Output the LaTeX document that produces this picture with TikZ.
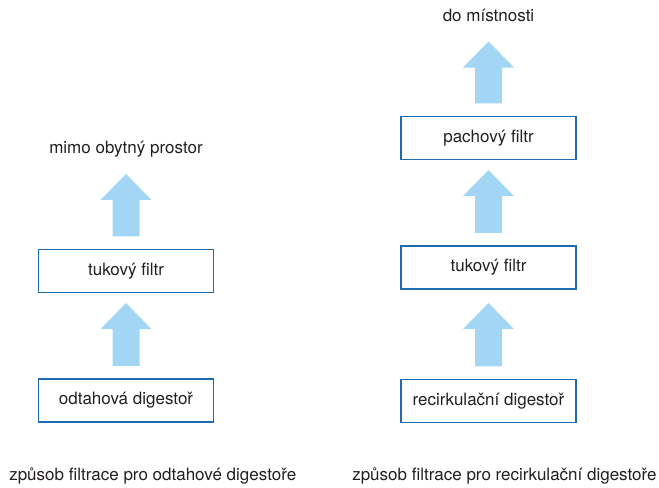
\documentclass[tikz,border=0pt]{standalone}
\usepackage{fontspec}
\setmainfont{TeX Gyre Heros}
\usetikzlibrary{calc}

\definecolor{boxblue}{HTML}{1F6BB0}
\definecolor{flowblue}{HTML}{A2D6F4}
\definecolor{txtgray}{HTML}{231F20}

% light blue block arrow from the top of #2 up to below #3 (#1 = gap under #3)
\newcommand{\flowarrow}[3][10]{%
  \path ($(#2.north)+(0,-12.5)$) coordinate (fbot) ($(#3.south)+(0,#1)$) coordinate (ftop);
  \fill[flowblue] ($(fbot)+(-13.5,0)$) -- ($(ftop)+(-13.5,26)$) -- ($(ftop)+(-25.5,26)$)
    -- (ftop) -- ($(ftop)+(25.5,26)$) -- ($(ftop)+(13.5,26)$) -- ($(fbot)+(13.5,0)$) -- cycle;
}

\begin{document}
\begin{tikzpicture}[x=0.75pt,y=-0.75pt]

    \tikzstyle{filterbox} = [draw=boxblue, line width=1.1pt, minimum width=131pt, minimum height=32pt, inner sep=0pt, text=txtgray, font=\fontsize{12.75}{15}\selectfont]
    \tikzstyle{label} = [inner sep=0pt, anchor=base, text=txtgray, font=\fontsize{12.75}{15}\selectfont]
    \tikzstyle{caption} = [inner sep=0pt, anchor=base west, text=txtgray, font=\fontsize{12.75}{15}\selectfont]

    \useasboundingbox (0,0) rectangle (659,487);

    % odtahova digestor
    \node[filterbox] (odtah) at (126,400.5) {odtahová digestoř};
    \node[filterbox] (tukL)  at (126,271) {tukový filtr};
    \node[label]     (mimo)  at (126,153) {mimo obytný prostor};

    % recirkulacni digestor
    \node[filterbox] (recirk) at (488.5,401) {recirkulační digestoř};
    \node[filterbox] (tukR)   at (488.5,267.5) {tukový filtr};
    \node[filterbox] (pach)   at (488.5,138) {pachový filtr};
    \node[label]     (mist)   at (488.5,21) {do místnosti};

    \flowarrow[10]{odtah}{tukL}
    \flowarrow[17]{tukL}{mimo}

    \flowarrow[13.5]{recirk}{tukR}
    \flowarrow[10]{tukR}{pach}
    \flowarrow[20]{pach}{mist}

    \node[caption] (capL) at (9,480) {způsob filtrace pro odtahové digestoře};
    \node[caption] (capR) at (352,480) {způsob filtrace pro recirkulační digestoře};
\end{tikzpicture}
\end{document}
